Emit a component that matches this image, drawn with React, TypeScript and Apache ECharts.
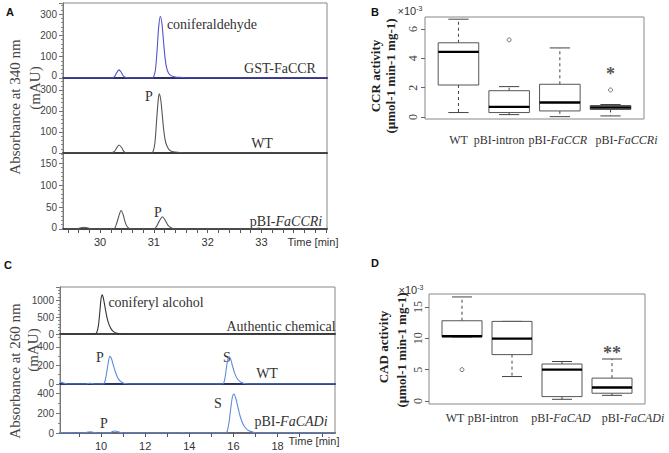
import React, { useEffect, useRef } from 'react';
import * as echarts from 'echarts';

const SERIF = '"Liberation Serif", "Times New Roman", serif';
const SANS = '"Liberation Sans", Arial, sans-serif';

// ---------- Panel A: chromatograms at 340 nm (time [min], mAU) ----------
const A_GST_FACCR = [
  [29.31, 0], [30.22, 0], [30.27, 8], [30.31, 25], [30.35, 38], [30.39, 28], [30.43, 10], [30.48, 2], [30.55, 0],
  [30.97, 0], [31.0, 8], [31.03, 40], [31.06, 130], [31.09, 240], [31.12, 290], [31.15, 255], [31.18, 170],
  [31.21, 90], [31.24, 45], [31.28, 20], [31.33, 10], [31.4, 5], [31.5, 3], [31.6, 1], [31.7, 0], [34.22, 0],
];
const A_WT = [
  [29.31, 0], [30.2, 0], [30.26, 6], [30.3, 20], [30.35, 38], [30.4, 26], [30.44, 8], [30.5, 0],
  [30.95, 0], [30.99, 10], [31.02, 50], [31.05, 150], [31.08, 250], [31.1, 282], [31.13, 250], [31.16, 170],
  [31.19, 95], [31.22, 50], [31.26, 25], [31.3, 12], [31.36, 6], [31.45, 3], [31.6, 0], [34.22, 0],
];
const A_FACCRI = [
  [29.31, 0], [29.55, 0], [29.62, 2], [29.7, 4], [29.78, 2], [29.85, 0], [30.25, 0], [30.3, 10], [30.35, 30],
  [30.39, 42], [30.43, 32], [30.47, 14], [30.52, 3], [30.58, 0], [31.0, 0], [31.05, 6], [31.1, 18], [31.16, 28],
  [31.21, 20], [31.26, 9], [31.32, 3], [31.4, 0], [32.05, 0], [32.1, 1.5], [32.15, 0], [32.85, 0], [32.95, 2],
  [33.05, 0], [34.22, 0],
];
const A_TIME_LABELS = [30, 31, 32, 33];
const A_TIME_TICKS = [29.4, 29.6, 29.8, 30, 30.2, 30.4, 30.6, 30.8, 31, 31.2, 31.4, 31.6, 31.8, 32, 32.2, 32.4, 32.6, 32.8, 33, 33.2, 33.4, 33.6, 33.8, 34, 34.2];

// ---------- Panel C: chromatograms at 260 nm ----------
const C_AUTHENTIC = [
  [8.14, 0], [9.7, 0], [9.8, 40], [9.88, 250], [9.95, 700], [10.0, 1050], [10.05, 1170], [10.1, 1080],
  [10.18, 800], [10.26, 520], [10.35, 300], [10.45, 160], [10.55, 80], [10.68, 30], [10.85, 8], [11.0, 0], [20.6, 0],
];
const C_WT = [
  [8.14, 20], [8.3, 10], [8.5, 0], [9.3, 0], [9.5, 8], [9.7, 0], [10.1, 0], [10.18, 30], [10.26, 130],
  [10.34, 250], [10.4, 300], [10.46, 280], [10.55, 210], [10.65, 130], [10.75, 70], [10.85, 35], [11.0, 12],
  [11.2, 3], [11.4, 0], [15.5, 0], [15.58, 25], [15.65, 120], [15.72, 240], [15.8, 295], [15.87, 270],
  [15.95, 200], [16.05, 120], [16.15, 65], [16.3, 25], [16.45, 8], [16.65, 0], [20.6, 0],
];
const C_FACADI = [
  [8.14, 5], [9.2, 0], [9.35, 8], [9.5, 12], [9.65, 8], [9.8, 0], [10.4, 0], [10.5, 12], [10.6, 20], [10.7, 18],
  [10.85, 6], [11.0, 0], [13.6, 0], [13.7, 5], [13.8, 0], [15.65, 0], [15.72, 20], [15.8, 110], [15.88, 250],
  [15.95, 360], [16.02, 390], [16.1, 350], [16.2, 260], [16.3, 170], [16.42, 95], [16.55, 50], [16.7, 22],
  [16.9, 8], [17.1, 0], [20.6, 0],
];
const C_TIME_LABELS = [10, 12, 14, 16, 18];
const C_TIME_TICKS = [9, 10, 11, 12, 13, 14, 15, 16, 17, 18, 19, 20];

// ---------- Panel B: CCR activity box plots (x10^-3) ----------
const B_CATEGORIES = ['WT', 'pBI-intron', 'pBI-FaCCR', 'pBI-FaCCRi'];
// [lower whisker, Q1, median, Q3, upper whisker]
const B_BOXES = [
  [0.3, 2.18, 4.44, 5.06, 6.67],
  [0.16, 0.3, 0.69, 1.79, 2.07],
  [0.02, 0.41, 0.99, 2.23, 4.71],
  [0.07, 0.51, 0.64, 0.78, 0.85],
];
const B_OUTLIERS = [[2, 5.26], [4, 1.84]];
const B_SIGNIF = [[4, 2.9]];
const B_SIGNIF_TEXT = ['*'];
const B_TICKS = [0, 2, 4, 6];

// ---------- Panel D: CAD activity box plots (x10^-3) ----------
const D_CATEGORIES = ['WT', 'pBI-intron', 'pBI-FaCAD', 'pBI-FaCADi'];
const D_BOXES = [
  [10.2, 10.2, 10.35, 12.8, 16.6],
  [3.9, 7.4, 9.95, 12.7, 12.7],
  [0.27, 0.7, 5.0, 5.9, 6.3],
  [0.9, 1.24, 2.15, 3.65, 6.7],
];
const D_OUTLIERS = [[1, 5.0]];
const D_SIGNIF = [[4, 7.7]];
const D_SIGNIF_TEXT = ['**'];
const D_TICKS = [0, 5, 10, 15];
const BOX_X_POS = [1, 2, 3, 4];

// label horizontal shifts (layout only)
const B_LABEL_SHIFT = [0, -10, -2, 16];
const D_LABEL_SHIFT = [-7, -19, -1, 21];

function catLabel(names: string[], shifts: number[]) {
  const rich: any = {};
  names.forEach((_, i) => {
    const s = shifts[i];
    const padL = s > 0 ? 2 * s : 0;
    const padR = s < 0 ? -2 * s : 0;
    rich['a' + i] = { fontFamily: SERIF, fontSize: 12, color: '#333', padding: [0, names[i].startsWith('pBI-Fa') ? 0 : padR, 0, padL] };
    rich['b' + i] = { fontFamily: SERIF, fontSize: 12, color: '#333', fontStyle: 'italic', padding: [0, padR, 0, 0] };
  });
  const formatter = (v: number) => {
    const i = Math.round(v) - 1;
    const n = names[i];
    if (n === undefined) return '';
    if (n.startsWith('pBI-Fa')) return `{a${i}|pBI-}{b${i}|${n.slice(4)}}`;
    return `{a${i}|${n}}`;
  };
  return { rich, formatter };
}

const chromX = (grid: number, min: number, max: number, baseColor: string, labels?: number[], ticks?: number[]) => ({
  type: 'value', gridIndex: grid, min, max,
  axisLine: { show: true, onZero: false, lineStyle: { color: baseColor, width: 2 } },
  axisTick: labels ? { show: true, customValues: ticks, length: 4, lineStyle: { color: '#555' } } : { show: false },
  axisLabel: labels
    ? { show: true, customValues: labels, fontFamily: SANS, fontSize: 11, color: '#333', margin: 7 }
    : { show: false },
  splitLine: { show: false },
});

const chromY = (grid: number, max: number, interval: number, minorSplit: number, zeroLift: number) => ({
  type: 'value', gridIndex: grid, min: 0, max, interval,
  axisLine: { show: true, lineStyle: { color: '#777' } },
  axisTick: { show: true, length: 4, lineStyle: { color: '#777' } },
  minorTick: { show: true, splitNumber: minorSplit, length: 2, lineStyle: { color: '#888' } },
  splitLine: { show: false },
  minorSplitLine: { show: false },
  axisLabel: {
    fontFamily: SANS, fontSize: 10, color: '#444', margin: 6, showMaxLabel: false,
    formatter: (v: number) => (v === 0 ? '{z|0}' : String(v)),
    rich: { z: { fontFamily: SANS, fontSize: 10, color: '#444', padding: [0, 0, zeroLift * 2, 0] } },
  },
});

const trace = (data: number[][], idx: number, color: string) => ({
  type: 'line', xAxisIndex: idx, yAxisIndex: idx, data, showSymbol: false, symbol: 'none',
  smooth: 0.3, lineStyle: { color, width: 1.1 }, silent: true, z: 3,
});

const boxSeries = (boxes: number[][], idx: number) => ({
  type: 'custom', xAxisIndex: idx, yAxisIndex: idx,
  data: boxes.map((b, i) => [BOX_X_POS[i], ...b]),
  encode: { x: 0, y: [1, 2, 3, 4, 5] },
  z: 3,
  renderItem: (params: any, api: any) => {
    const x = api.value(0);
    const p = [1, 2, 3, 4, 5].map((k) => api.coord([x, api.value(k)]));
    const cx = p[0][0];
    const hw = api.coord([x + 0.4, api.value(1)])[0] - cx;
    const cw = hw * 0.5;
    const dash = { stroke: '#444', lineWidth: 1, lineDash: [3, 3], fill: null };
    const solid = { stroke: '#444', lineWidth: 1, fill: null };
    return {
      type: 'group',
      children: [
        { type: 'line', shape: { x1: cx, y1: p[3][1], x2: cx, y2: p[4][1] }, style: dash },
        { type: 'line', shape: { x1: cx, y1: p[1][1], x2: cx, y2: p[0][1] }, style: dash },
        { type: 'line', shape: { x1: cx - cw, y1: p[4][1], x2: cx + cw, y2: p[4][1] }, style: solid },
        { type: 'line', shape: { x1: cx - cw, y1: p[0][1], x2: cx + cw, y2: p[0][1] }, style: solid },
        { type: 'rect', shape: { x: cx - hw, y: p[3][1], width: 2 * hw, height: p[1][1] - p[3][1] }, style: { fill: '#fff', stroke: '#555', lineWidth: 1 } },
        { type: 'line', shape: { x1: cx - hw, y1: p[2][1], x2: cx + hw, y2: p[2][1] }, style: { stroke: '#000', lineWidth: 2.4 } },
      ],
    };
  },
});

const boxX = (grid: number, names: string[], shifts: number[], margin: number) => {
  const l = catLabel(names, shifts);
  return {
    type: 'value', gridIndex: grid, min: 0.34, max: 4.66,
    axisLine: { show: false }, axisTick: { show: false }, splitLine: { show: false },
    axisLabel: { show: true, customValues: BOX_X_POS, formatter: l.formatter, rich: l.rich, margin },
  };
};

const boxY = (grid: number, min: number, max: number, ticks: number[], labelMargin: number) => ({
  type: 'value', gridIndex: grid, min, max,
  axisLine: { show: false },
  axisTick: { show: true, customValues: ticks, length: 4, lineStyle: { color: '#666' } },
  axisLabel: { show: true, customValues: ticks, rotate: 90, fontFamily: SERIF, fontSize: 12, color: '#444', margin: labelMargin },
  splitLine: { show: false },
});

const outliers = (pts: number[][], idx: number) => ({
  type: 'scatter', xAxisIndex: idx, yAxisIndex: idx, data: pts, symbol: 'circle', symbolSize: 4,
  itemStyle: { color: '#fff', borderColor: '#555', borderWidth: 1 }, z: 4,
});

const signif = (pts: number[][], texts: string[], idx: number) => ({
  type: 'scatter', xAxisIndex: idx, yAxisIndex: idx, data: pts, symbolSize: 0, z: 5,
  label: {
    show: true, position: 'inside', formatter: (p: any) => texts[p.dataIndex],
    fontFamily: SERIF, fontSize: 18, fontWeight: 'bold', color: '#222',
  },
});

const txt = (text: string, x: number, y: number, size = 14, font = SERIF, extra: any = {}) => ({
  type: 'text', x, y, ...extra,
  style: { text, fontFamily: font, fontSize: size, fill: '#333', align: 'center', verticalAlign: 'middle', ...(extra.style || {}) },
});

const vtxt = (text: string, x: number, y: number, size: number, bold = false) =>
  txt(text, x, y, size, SERIF, { rotation: Math.PI / 2, style: { fill: bold ? '#222' : '#444', fontWeight: bold ? 'bold' : 'normal' } });

export default function App() {
  const ref = useRef<HTMLDivElement>(null);
  useEffect(() => {
    if (!ref.current) return;
    const chart = echarts.init(ref.current, null, { renderer: 'svg' });
    const gridStyle = { show: true, borderColor: '#888', borderWidth: 1, backgroundColor: 'transparent' };
    const italicRich = {
      n: { fontFamily: SERIF, fontSize: 14, color: '#333' },
      i: { fontFamily: SERIF, fontSize: 14, color: '#333', fontStyle: 'italic' },
    };
    const supRich = {
      a: { fontFamily: SANS, fontSize: 11, color: '#444' },
      s: { fontFamily: SANS, fontSize: 7, color: '#444', padding: [0, 0, 6, 0] },
    };
    const option: any = {
      animation: false,
      backgroundColor: '#fff',
      grid: [
        { left: 63, top: 3, width: 264, height: 75, ...gridStyle },
        { left: 63, top: 78, width: 264, height: 75, ...gridStyle },
        { left: 63, top: 153, width: 264, height: 76, ...gridStyle },
        { left: 425, top: 17, width: 219, height: 102, ...gridStyle },
        { left: 60, top: 287, width: 275, height: 47, ...gridStyle },
        { left: 60, top: 334, width: 275, height: 50, ...gridStyle },
        { left: 60, top: 384, width: 275, height: 49, ...gridStyle },
        { left: 429, top: 294, width: 216, height: 110, ...gridStyle },
      ],
      xAxis: [
        chromX(0, 29.31, 34.22, '#2d2d6e'),
        chromX(1, 29.31, 34.22, '#3a3a3a'),
        chromX(2, 29.31, 34.22, '#444', A_TIME_LABELS, A_TIME_TICKS),
        boxX(3, B_CATEGORIES, B_LABEL_SHIFT, 15),
        chromX(4, 8.14, 20.6, '#444'),
        chromX(5, 8.14, 20.6, '#26346a'),
        chromX(6, 8.14, 20.6, '#667', C_TIME_LABELS, C_TIME_TICKS),
        boxX(7, D_CATEGORIES, D_LABEL_SHIFT, 8),
      ],
      yAxis: [
        chromY(0, 352, 100, 5, 3),
        chromY(1, 357, 100, 5, 3),
        chromY(2, 173, 50, 5, 2),
        boxY(3, -0.14, 6.82, B_TICKS, 6),
        chromY(4, 1400, 500, 5, 0),
        chromY(5, 540, 200, 2, 1),
        chromY(6, 490, 200, 2, 0),
        boxY(7, -0.48, 17.07, D_TICKS, 5),
      ],
      series: [
        trace(A_GST_FACCR, 0, '#5454cc'),
        trace(A_WT, 1, '#555'),
        trace(A_FACCRI, 2, '#555'),
        trace(C_AUTHENTIC, 4, '#333'),
        trace(C_WT, 5, '#5f8bdc'),
        trace(C_FACADI, 6, '#5f8bdc'),
        boxSeries(B_BOXES, 3),
        outliers(B_OUTLIERS, 3),
        signif(B_SIGNIF, B_SIGNIF_TEXT, 3),
        boxSeries(D_BOXES, 7),
        outliers(D_OUTLIERS, 7),
        signif(D_SIGNIF, D_SIGNIF_TEXT, 7),
      ],
      graphic: [
        txt('A', 10, 12, 11, SANS, { style: { fontWeight: 'bold', fill: '#111' } }),
        txt('B', 375, 12, 11, SANS, { style: { fontWeight: 'bold', fill: '#111' } }),
        txt('C', 8, 265, 11, SANS, { style: { fontWeight: 'bold', fill: '#111' } }),
        txt('D', 375, 263, 11, SANS, { style: { fontWeight: 'bold', fill: '#111' } }),
        vtxt('Absorbance at 340 nm', 15, 107, 15),
        vtxt('(mAU)', 35, 88, 15),
        vtxt('Absorbance at 260 nm', 15, 371, 15),
        vtxt('(mAU)', 33, 350, 15),
        vtxt('CCR activity', 375, 76, 13, true),
        vtxt('(µmol-1 min-1 mg-1)', 390, 76, 13, true),
        vtxt('CAD activity', 383, 347, 13, true),
        vtxt('(µmol-1 min-1 mg-1)', 401, 350, 13, true),
        txt('coniferaldehyde', 212, 24),
        txt('GST-FaCCR', 280, 68),
        txt('P', 149, 96),
        txt('WT', 262, 143),
        txt('P', 158, 212),
        txt('{n|pBI-}{i|FaCCRi}', 286, 221, 14, SERIF, { style: { rich: italicRich } }),
        txt('Time [min]', 313, 242, 11, SANS),
        txt('coniferyl alcohol', 156, 302),
        txt('Authentic chemical', 281, 326),
        txt('P', 100, 357),
        txt('S', 227, 357),
        txt('WT', 267, 373),
        txt('S', 218, 403),
        txt('P', 104, 423),
        txt('{n|pBI-}{i|FaCADi}', 291, 421, 14, SERIF, { style: { rich: italicRich } }),
        txt('Time [min]', 314, 441, 11, SANS),
        txt('{a|×10}{s|-3}', 410, 11, 11, SANS, { style: { rich: supRich } }),
        txt('{a|×10}{s|-3}', 411, 290, 11, SANS, { style: { rich: supRich } }),
      ],
    };
    chart.setOption(option);
    return () => chart.dispose();
  }, []);
  return <div ref={ref} style={{ position: 'absolute', left: 0, top: 0, width: 669, height: 453, background: '#fff' }} />;
}
